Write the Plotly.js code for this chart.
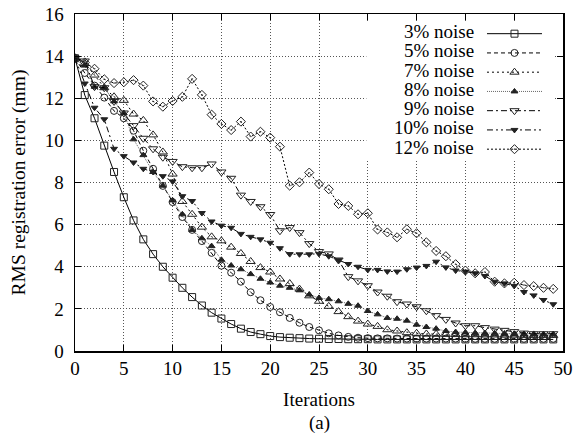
<!DOCTYPE html>
<html>
<head>
<meta charset="utf-8">
<script src="https://cdn.plot.ly/plotly-3.0.1.min.js"></script>
<style>html,body{margin:0;padding:0;background:#fff;}#chart{width:575px;height:445px;}</style>
</head>
<body>
<div id="chart"></div>
<script>
const iterations = [0,1,2,3,4,5,6,7,8,9,10,11,12,13,14,15,16,17,18,19,20,21,22,23,24,25,26,27,28,29,30,31,32,33,34,35,36,37,38,39,40,41,42,43,44,45,46,47,48,49];
const seriesNames = ["3% noise","5% noise","7% noise","8% noise","9% noise","10% noise","12% noise"];
const noise3 = [13.9,12.15,11.05,9.75,8.5,7.3,6.2,5.3,4.6,4.0,3.48,3.0,2.56,2.16,1.82,1.54,1.28,1.06,0.9,0.8,0.71,0.66,0.63,0.61,0.59,0.58,0.57,0.57,0.56,0.56,0.56,0.55,0.55,0.55,0.55,0.55,0.55,0.55,0.55,0.55,0.55,0.55,0.55,0.55,0.55,0.55,0.55,0.55,0.55,0.55];
const noise5 = [13.9,13.2,12.6,12.03,11.4,11.05,10.46,9.51,8.65,7.84,7.07,6.36,5.75,5.22,4.66,4.05,3.72,3.29,2.79,2.41,2.09,1.84,1.57,1.34,1.14,0.98,0.84,0.74,0.67,0.63,0.61,0.6,0.6,0.59,0.59,0.59,0.59,0.59,0.59,0.59,0.58,0.58,0.58,0.58,0.58,0.58,0.58,0.58,0.58,0.58];
const noise7 = [13.9,13.65,13.1,12.5,12.07,11.9,11.25,10.95,10.26,9.45,8.4,7.1,6.49,5.88,5.42,5.23,4.93,4.63,4.25,3.96,3.75,3.42,3.2,2.94,2.62,2.36,2.12,1.87,1.63,1.42,1.28,1.17,1.01,0.95,0.87,0.84,0.81,0.8,0.79,0.78,0.77,0.77,0.76,0.76,0.75,0.75,0.74,0.74,0.74,0.74];
const noise8 = [13.9,13.55,12.55,12.5,11.85,11.3,10.05,9.3,8.5,7.85,7.15,6.49,5.75,5.35,4.98,4.33,4.06,3.88,3.65,3.43,3.25,3.1,3.0,2.88,2.68,2.52,2.46,2.36,2.24,2.15,1.9,1.74,1.57,1.53,1.44,1.25,1.14,1.06,0.95,0.9,0.88,0.86,0.85,0.84,0.83,0.82,0.81,0.81,0.8,0.8];
const noise9 = [13.9,13.77,12.55,12.5,11.85,11.3,10.7,10.1,9.6,9.2,9.0,8.75,8.7,8.7,8.88,8.5,8.2,7.4,7.1,6.85,6.48,5.71,5.86,5.62,5.1,4.72,4.61,4.32,3.53,3.33,3.1,2.8,2.6,2.34,2.23,2.1,1.91,1.68,1.5,1.33,1.2,1.2,1.11,1.04,0.98,0.92,0.85,0.82,0.82,0.82];
const noise10 = [13.9,12.7,11.55,11.0,9.6,9.25,8.95,8.65,8.5,8.3,8.05,7.35,7.12,6.55,6.15,5.95,5.85,5.56,5.42,5.3,5.14,4.88,4.6,4.59,4.59,4.61,4.5,4.31,4.13,4.0,3.85,3.85,3.78,3.77,3.88,3.96,4.04,4.24,3.97,3.82,3.77,3.69,3.56,3.29,3.21,3.09,2.8,2.64,2.42,2.22];
const noise12 = [13.9,13.7,13.4,12.9,12.72,12.76,12.86,12.6,11.85,11.6,11.87,12.07,12.92,12.16,11.22,10.78,10.49,10.89,10.18,10.41,10.13,9.7,7.85,8.01,8.47,7.93,7.68,6.98,6.89,6.49,6.54,5.77,5.63,5.4,5.78,5.59,5.16,4.75,4.5,4.12,3.82,3.69,3.75,3.29,3.21,3.24,3.13,3.08,3.0,2.95];
const xTicks = [0,5,10,15,20,25,30,35,40,45,50];
const yTicks = [0,2,4,6,8,10,12,14,16];

const values = [noise3, noise5, noise7, noise8, noise9, noise10, noise12];
const styles = [
  {dash:'solid', color:'#000', sym:'square-open', size:7},
  {dash:'4px,3px', color:'#000', sym:'circle-open', size:7},
  {dash:'2px,3px', color:'#000', sym:'triangle-up-open', size:8},
  {dash:'1px,1px', color:'#666', sym:'triangle-up', size:6},
  {dash:'6px,3px,2px,3px', color:'#000', sym:'triangle-down-open', size:8},
  {dash:'6px,3px,2px,3px,2px,3px', color:'#000', sym:'triangle-down', size:6},
  {dash:'2px,2px', color:'#000', sym:'diamond-open-dot', size:7}
];
const FONT = '"Liberation Serif", "Times New Roman", serif';

const traces = values.map((v, i) => ({
  x: iterations, y: v, type: 'scatter', mode: 'lines+markers',
  name: '',
  line: {color: styles[i].color, width: 1, dash: styles[i].dash},
  marker: {symbol: styles[i].sym, size: styles[i].size, color: '#222', line: {color: '#222', width: 1}},
  showlegend: true
}));

const plotTop = 14, plotBottom = 351, plotH = plotBottom - plotTop;
const annotations = seriesNames.map((n, i) => ({
  text: n, xref: 'paper', yref: 'paper', x: 0.822, xanchor: 'right',
  y: (plotBottom - (31.7 + 19.25 * i)) / plotH, yanchor: 'middle',
  showarrow: false, font: {family: FONT, size: 19, color: '#000'}
}));
annotations.push({
  text: '(a)', xref: 'paper', yref: 'paper', x: 0.5, xanchor: 'center',
  y: (plotBottom - 423) / plotH, yanchor: 'middle', showarrow: false,
  font: {family: FONT, size: 19, color: '#000'}
});

const axisCommon = {
  showline: true, linecolor: '#000', linewidth: 1.5, mirror: 'ticks',
  ticks: 'inside', ticklen: 6, tickwidth: 1, tickcolor: '#000',
  showgrid: true, gridcolor: '#555', gridwidth: 1, griddash: '1px,2px',
  zeroline: false, tickfont: {family: FONT, size: 19, color: '#000'}
};

const layout = {
  width: 575, height: 445,
  margin: {l: 75, r: 12, t: 14, b: 94},
  paper_bgcolor: '#fff', plot_bgcolor: '#fff',
  font: {family: FONT, color: '#000'},
  xaxis: Object.assign({}, axisCommon, {
    range: [0, 50], tickvals: xTicks, ticktext: xTicks.map(String),
    title: {text: 'Iterations', font: {family: FONT, size: 19, color: '#000'}, standoff: 14}
  }),
  yaxis: Object.assign({}, axisCommon, {
    range: [0, 16], tickvals: yTicks, ticktext: yTicks.map(String),
    ticklabelstandoff: 6,
    title: {text: 'RMS registration error (mm)', font: {family: FONT, size: 19.5, color: '#000'}, standoff: 14}
  }),
  showlegend: true,
  legend: {
    x: 0.834, xanchor: 'left', y: 0.985, yanchor: 'top',
    bgcolor: 'rgba(0,0,0,0)', borderwidth: 0, itemwidth: 55,
    font: {family: FONT, size: 12.5}, tracegroupgap: 0, itemclick: false
  },
  shapes: [{
    type: 'rect', xref: 'x', yref: 'y', x0: 29.85, x1: 49.0, y0: 9.05, y1: 15.65,
    fillcolor: '#fff', line: {width: 0}, layer: 'above'
  }],
  annotations: annotations
};

Plotly.newPlot('chart', traces, layout, {staticPlot: true, displayModeBar: false});
</script>
</body>
</html>
